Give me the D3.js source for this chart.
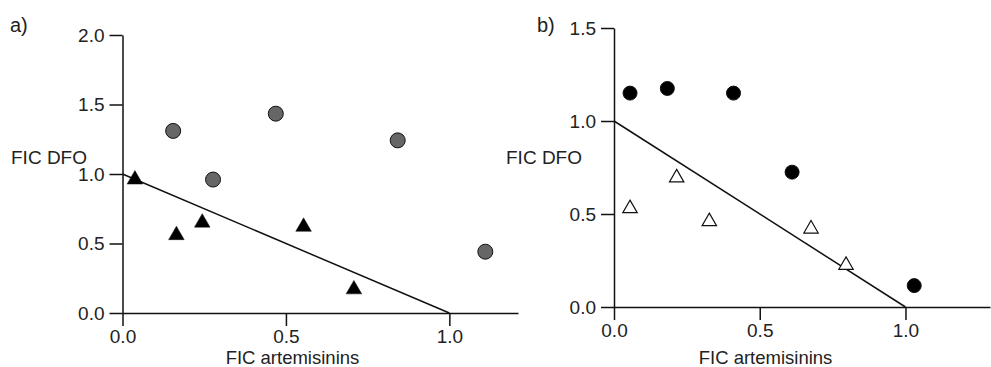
<!DOCTYPE html>
<html>
<head>
<meta charset="utf-8">
<script src="https://cdn.jsdelivr.net/npm/d3@7"></script>
<style>
  body { margin: 0; background: #fff; }
  svg text { font-family: "Liberation Sans", Arial, sans-serif; fill: #222; }
</style>
</head>
<body>
<div id="chart"></div>
<script>
// panel a) - grey circles and filled triangles
const aCircleX = [0.155, 0.469, 0.842, 0.277, 1.110];
const aCircleY = [1.31, 1.434, 1.242, 0.96, 0.441];
const aTriX = [0.038, 0.165, 0.244, 0.554, 0.708];
const aTriY = [0.96, 0.56, 0.65, 0.62, 0.17];

// panel b) - black circles and open triangles
const bCircleX = [0.055, 0.183, 0.41, 0.611, 1.03];
const bCircleY = [1.15, 1.175, 1.15, 0.725, 0.115];
const bTriX = [0.055, 0.215, 0.327, 0.676, 0.796];
const bTriY = [0.53, 0.695, 0.46, 0.42, 0.225];

// additivity line (0,1) -> (1,0)
const isoX = [0, 1];
const isoY = [1, 0];

const xTicks = [0, 0.5, 1.0];
const aYTicks = [0, 0.5, 1.0, 1.5, 2.0];
const bYTicks = [0, 0.5, 1.0, 1.5];

const svg = d3.select("#chart")
    .append("svg")
    .attr("width", 991)
    .attr("height", 367);

function drawPanel(cfg) {
    const x = d3.scaleLinear().domain(cfg.xDomain).range(cfg.xRange);
    const y = d3.scaleLinear().domain(cfg.yDomain).range(cfg.yRange);
    const g = svg.append("g");

    // axes
    const xAxis = g.append("g")
        .attr("transform", `translate(0,${y(0)})`)
        .call(d3.axisBottom(x).tickValues(xTicks).tickFormat(d3.format(".1f"))
            .tickSize(13).tickSizeOuter(0).tickPadding(4));
    const yAxis = g.append("g")
        .attr("transform", `translate(${x(0)},0)`)
        .call(d3.axisLeft(y).tickValues(cfg.yTicks).tickFormat(d3.format(".1f"))
            .tickSize(13).tickSizeOuter(0).tickPadding(5));
    [xAxis, yAxis].forEach(ax => {
        ax.selectAll("path, line").attr("stroke", "#111").attr("stroke-width", 1.5);
        ax.selectAll("text").attr("font-size", 19).attr("fill", "#222")
            .attr("font-family", "Liberation Sans, Arial, sans-serif");
    });

    // additivity line
    const line = d3.line().x(d => x(d[0])).y(d => y(d[1]));
    g.append("path")
        .datum(d3.zip(isoX, isoY))
        .attr("fill", "none")
        .attr("stroke", "#111")
        .attr("stroke-width", 1.5)
        .attr("d", line);

    // circles
    g.selectAll(".dot")
        .data(d3.zip(cfg.cx, cfg.cy))
        .join("circle")
        .attr("cx", d => x(d[0]))
        .attr("cy", d => y(d[1]))
        .attr("r", cfg.r)
        .attr("fill", cfg.circleFill)
        .attr("stroke", "#111")
        .attr("stroke-width", 1);

    // triangles
    const tri = d3.symbol().type(d3.symbolTriangle).size(cfg.triSize);
    g.selectAll(".tri")
        .data(d3.zip(cfg.tx, cfg.ty))
        .join("path")
        .attr("transform", d => `translate(${x(d[0])},${y(d[1])})`)
        .attr("d", tri)
        .attr("fill", cfg.triFill)
        .attr("stroke", "#111")
        .attr("stroke-width", cfg.triStroke);

    // labels
    g.append("text")
        .attr("x", cfg.tag[0]).attr("y", cfg.tag[1])
        .attr("font-size", 20)
        .text(cfg.tagText);
    g.append("text")
        .attr("x", cfg.yLabel[0]).attr("y", cfg.yLabel[1])
        .attr("font-size", 19)
        .text("FIC DFO");
    g.append("text")
        .attr("x", x(0.52)).attr("y", 364)
        .attr("text-anchor", "middle")
        .attr("font-size", 18.5)
        .text("FIC artemisinins");
}

drawPanel({
    xDomain: [0, 1.21], xRange: [122.5, 518],
    yDomain: [0, 2], yRange: [313, 35],
    yTicks: aYTicks,
    cx: aCircleX, cy: aCircleY, r: 7.5, circleFill: "#666",
    tx: aTriX, ty: aTriY, triSize: 105, triFill: "#000", triStroke: 0.5,
    tag: [10, 32], tagText: "a)",
    yLabel: [11, 164]
});

drawPanel({
    xDomain: [0, 1.29], xRange: [614, 990],
    yDomain: [0, 1.5], yRange: [307, 28],
    yTicks: bYTicks,
    cx: bCircleX, cy: bCircleY, r: 7, circleFill: "#000",
    tx: bTriX, ty: bTriY, triSize: 90, triFill: "#fff", triStroke: 1.2,
    tag: [537, 32], tagText: "b)",
    yLabel: [506, 164]
});
</script>
</body>
</html>
